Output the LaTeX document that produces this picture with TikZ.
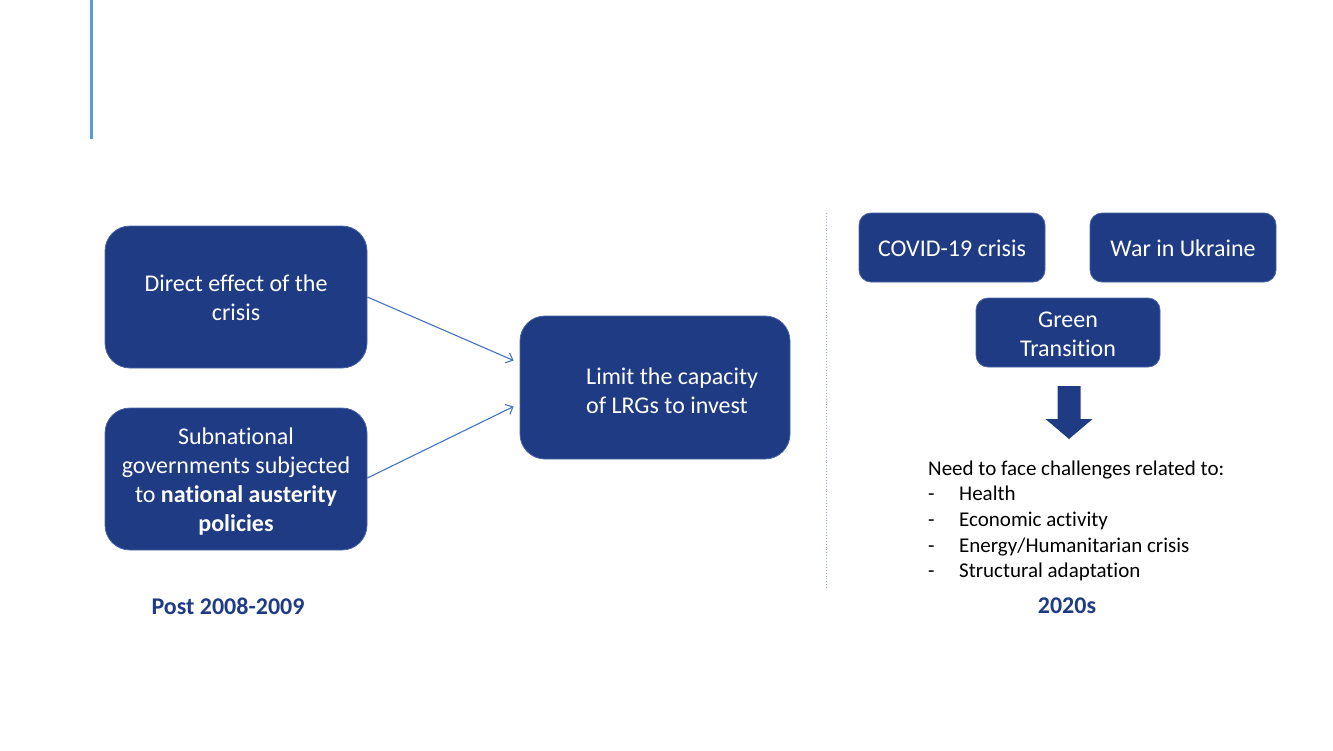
\documentclass[tikz,border=0pt]{standalone}
\usepackage{fontspec}
\setmainfont{Carlito}[Ligatures={NoCommon}]
\usetikzlibrary{arrows.meta}
\definecolor{boxblue}{RGB}{30,59,131}
\definecolor{boxedge}{RGB}{75,100,165}
\definecolor{linkblue}{RGB}{68,114,196}
\definecolor{barblue}{RGB}{91,155,213}
\definecolor{dotblue}{RGB}{143,170,220}
\newcommand\topstrutx{\rule{0pt}{22pt}}
\newcommand\botstrutx{\rule[-4pt]{0pt}{4pt}}
\begin{document}
\begin{tikzpicture}[x=1pt,y=-1pt,
  boxbase/.style={fill=boxblue, draw=boxedge, line width=0.8pt, text=white, align=center,
    font=\fontsize{24}{29}\selectfont, inner sep=0pt},
  bigbox/.style={boxbase, rounded corners=25pt},
  smallbox/.style={boxbase, rounded corners=12pt, minimum width=186pt, minimum height=69pt},
  boxtext/.style={text=white, align=left, font=\fontsize{24}{29}\selectfont, inner sep=0pt},
  link/.style={draw=linkblue, line width=1.1pt, -{Straight Barb[length=6pt,width=11pt]}},
  listtext/.style={font=\fontsize{21}{25.7}\selectfont, anchor=base west, inner sep=0pt, text=black},
  era/.style={font=\fontsize{24}{29}\selectfont\bfseries, text=boxblue, inner sep=0pt}]
\useasboundingbox (0,0) rectangle (1333,750);

% top accent bar
\fill[barblue] (89.5,0) rectangle (92.5,139);

% separator
\draw[dotblue, line width=0.9pt, dotted] (826,213) -- (826,590);

% left part
\node[bigbox, minimum width=262pt, minimum height=142pt] (b1) at (236,297)
  {\topstrutx Direct effect of the\\crisis\botstrutx};
\node[bigbox, minimum width=262pt, minimum height=142pt] (b2) at (236,479)
  {\topstrutx Subnational\\governments subjected\\to \textbf{national austerity}\\\textbf{policies}\botstrutx};
\node[bigbox, minimum width=270pt, minimum height=143pt] (b3) at (655,387.5) {};
\node[boxtext, anchor=west] (b3t) at (586,390) {\topstrutx Limit the capacity\\of LRGs to invest\botstrutx};

\draw[link] (b1.east) -- ([xshift=-6pt,yshift=27pt]b3.west);
\draw[link] ([yshift=1pt]b2.east) -- ([xshift=-6pt,yshift=-19pt]b3.west);

\node[era] (post) at (228,606) {Post 2008-2009};

% right part
\node[smallbox] (covid) at (952,247.5) {\topstrutx COVID-19 crisis\botstrutx};
\node[smallbox] (war) at (1183,247.5) {\topstrutx War in Ukraine\botstrutx};
\node[smallbox, minimum width=184pt] (green) at (1068,332.5) {\topstrutx Green\\Transition\botstrutx};

\fill[boxblue] (1057.5,386) -- (1080.5,386) -- (1080.5,419) -- (1092.5,419)
  -- (1069,439) -- (1045.5,419) -- (1057.5,419) -- cycle;

\node[listtext] (l0) at (928,475) {Need to face challenges related to:};
\node[listtext] (l1) at (928,500.7) {\makebox[31pt][l]{-}Health};
\node[listtext] (l2) at (928,526.3) {\makebox[31pt][l]{-}Economic activity};
\node[listtext] (l3) at (928,552) {\makebox[31pt][l]{-}Energy/Humanitarian crisis};
\node[listtext] (l4) at (928,577.6) {\makebox[31pt][l]{-}Structural adaptation};

\node[era] (now) at (1067,606) {2020s};
\end{tikzpicture}
\end{document}
